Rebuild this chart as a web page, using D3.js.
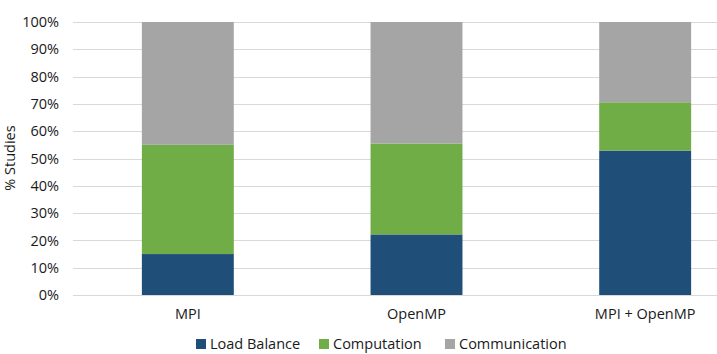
<!DOCTYPE html>
<html>
<head>
<meta charset="utf-8">
<script src="https://cdn.jsdelivr.net/npm/d3@7"></script>
<style>
  body { margin: 0; background: #fff; }
  text { font-family: "Open Sans", sans-serif; fill: #1a1a1a; }
</style>
</head>
<body>
<div id="chart"></div>
<script>
var categories = ["MPI", "OpenMP", "MPI + OpenMP"];
var seriesNames = ["Load Balance", "Computation", "Communication"];
var loadBalance = [15, 22.2, 52.9];
var computation = [40, 33.3, 17.7];
var communication = [45, 44.5, 29.4];
var yTicks = [0, 10, 20, 30, 40, 50, 60, 70, 80, 90, 100];

var colors = ["#1f4e79", "#70ad47", "#a5a5a5"];

var w = 717, h = 354;

// table for d3.stack
var table = categories.map(function(c, i) {
  return { cat: c, "Load Balance": loadBalance[i], "Computation": computation[i], "Communication": communication[i] };
});

var xScale = d3.scaleBand()
  .domain(categories)
  .range([73.5, 759.5])
  .paddingInner(0.598)
  .paddingOuter(0.299);

var yScale = d3.scaleLinear()
  .domain([0, 100])
  .range([295, 22]);

var svg = d3.select("#chart")
  .append("svg")
  .attr("width", w)
  .attr("height", h);

// gridlines
svg.append("g")
  .selectAll("line")
  .data(yTicks)
  .enter()
  .append("line")
  .attr("x1", 73)
  .attr("x2", 760)
  .attr("y1", function(d) { return Math.round(yScale(d)) + 0.5; })
  .attr("y2", function(d) { return Math.round(yScale(d)) + 0.5; })
  .attr("stroke", "#d9d9d9")
  .attr("stroke-width", 1);

var stack = d3.stack().keys(seriesNames);
var layers = stack(table);

svg.append("g")
  .selectAll("g")
  .data(layers)
  .enter()
  .append("g")
  .attr("fill", function(d, i) { return colors[i]; })
  .selectAll("rect")
  .data(function(d) { return d; })
  .enter()
  .append("rect")
  .attr("x", function(d) { return xScale(d.data.cat); })
  .attr("width", xScale.bandwidth())
  .attr("y", function(d) { return yScale(d[1]); })
  .attr("height", function(d) { return yScale(d[0]) - yScale(d[1]); });

// y axis
var yAxis = d3.axisLeft(yScale)
  .tickValues(yTicks)
  .tickSize(0)
  .tickPadding(0)
  .tickFormat(function(d) { return d + "%"; });

var gy = svg.append("g")
  .attr("transform", "translate(59,0)")
  .call(yAxis);
gy.select(".domain").remove();
gy.selectAll("text")
  .style("font-size", "14.5px")
  .style("font-family", "'Open Sans', sans-serif")
  .attr("fill", "#1a1a1a");

// x axis
var xAxis = d3.axisBottom(xScale).tickSize(0).tickPadding(0);
var gx = svg.append("g")
  .attr("transform", "translate(0,309)")
  .call(xAxis);
gx.select(".domain").remove();
gx.selectAll("text")
  .style("font-size", "14.5px")
  .style("font-family", "'Open Sans', sans-serif")
  .attr("fill", "#1a1a1a");

// y label
svg.append("text")
  .attr("transform", "translate(15,158) rotate(-90)")
  .attr("text-anchor", "middle")
  .style("font-size", "14.5px")
  .text("% Studies");

// legend
var legendX = [196, 319, 445];
var legend = svg.append("g")
  .selectAll("g")
  .data(seriesNames)
  .enter()
  .append("g")
  .attr("transform", function(d, i) { return "translate(" + legendX[i] + ",339)"; });

legend.append("rect")
  .attr("width", 10)
  .attr("height", 10)
  .attr("fill", function(d, i) { return colors[i]; });

legend.append("text")
  .attr("x", 14)
  .attr("y", 10)
  .style("font-size", "14.5px")
  .text(function(d) { return d; });
</script>
</body>
</html>
